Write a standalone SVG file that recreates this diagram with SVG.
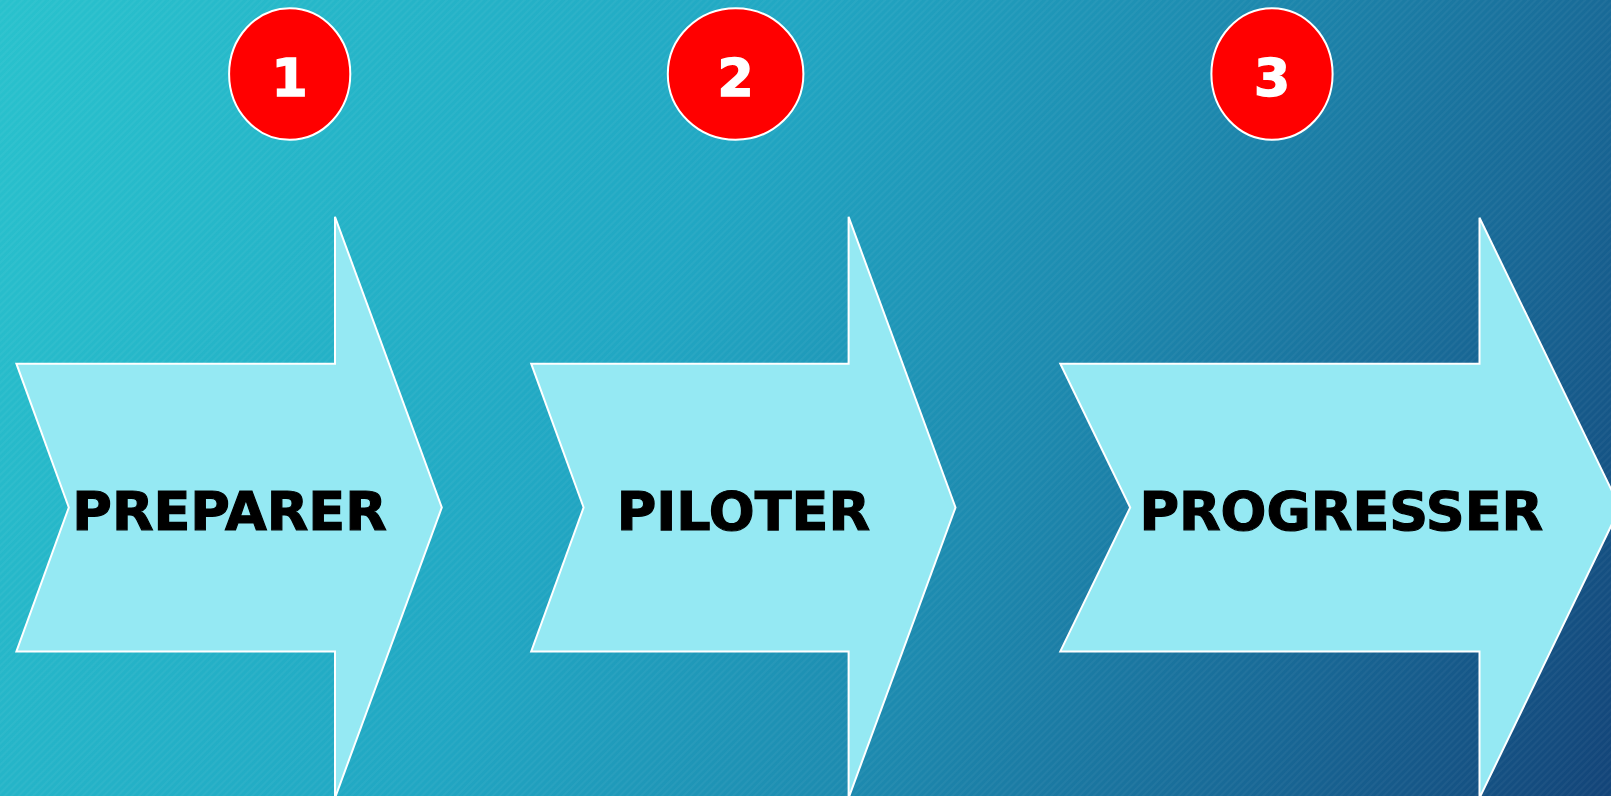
<svg xmlns="http://www.w3.org/2000/svg" width="1611" height="796" viewBox="0 0 1611 796">
  <style>
    .arrow { fill: #95e9f3; stroke: #ffffff; stroke-width: 2; stroke-linejoin: miter; }
    .badge { fill: #ff0000; stroke: #ffffff; stroke-width: 2; }
    .num { font-family: "DejaVu Sans", Verdana, sans-serif; font-weight: bold; font-size: 52px; fill: #ffffff; stroke: #ffffff; stroke-width: 1.5; text-anchor: middle; }
    .label { font-family: "DejaVu Sans", Verdana, sans-serif; font-weight: bold; font-size: 54px; fill: #000000; stroke: #000000; stroke-width: 1.2; text-anchor: middle; }
  </style>
  <defs>
    <linearGradient id="bg" x1="0" y1="0" x2="1611" y2="796" gradientUnits="userSpaceOnUse">
      <stop offset="0" stop-color="#29c2cd"/>
      <stop offset="0.4" stop-color="#21a7c3"/>
      <stop offset="0.62" stop-color="#1d8aaf"/>
      <stop offset="0.82" stop-color="#186795"/>
      <stop offset="1" stop-color="#134478"/>
    </linearGradient>
    <pattern id="stripes" width="5" height="5" patternUnits="userSpaceOnUse" patternTransform="rotate(-45)">
      <rect x="0" y="0" width="5" height="2" fill="#ffffff" fill-opacity="0.04"/>
    </pattern>
  </defs>

  <rect x="0" y="0" width="1611" height="796" fill="url(#bg)"/>
  <rect x="0" y="0" width="1611" height="796" fill="url(#stripes)"/>

  <g id="connectors"></g>

  <g id="step1">
    <polygon class="arrow" points="16.4,363.7 335,363.7 335,216.8 441.8,507.5 335,798 335,651.4 16.4,651.4 68.8,507.5"/>
    <text class="label" x="229.6" y="530">PREPARER</text>
  </g>
  <g id="badge1">
    <ellipse class="badge" cx="289.7" cy="74" rx="60.6" ry="65.8"/>
    <text class="num" x="289.7" y="96">1</text>
  </g>

  <g id="step2">
    <polygon class="arrow" points="531.2,363.7 848.6,363.7 848.6,216.8 955.5,507.5 848.6,798 848.6,651.4 531.2,651.4 583.6,507.5"/>
    <text class="label" x="743.4" y="530">PILOTER</text>
  </g>
  <g id="badge2">
    <ellipse class="badge" cx="735.6" cy="74" rx="67.8" ry="65.8"/>
    <text class="num" x="735.6" y="96">2</text>
  </g>

  <g id="step3">
    <polygon class="arrow" points="1060.3,363.7 1479.5,363.7 1479.5,217.8 1620,507.5 1479.5,798 1479.5,651.4 1060.3,651.4 1130.2,507.5"/>
    <text class="label" x="1341.3" y="530">PROGRESSER</text>
  </g>
  <g id="badge3">
    <ellipse class="badge" cx="1272" cy="74" rx="60.6" ry="65.8"/>
    <text class="num" x="1272" y="96">3</text>
  </g>
</svg>
